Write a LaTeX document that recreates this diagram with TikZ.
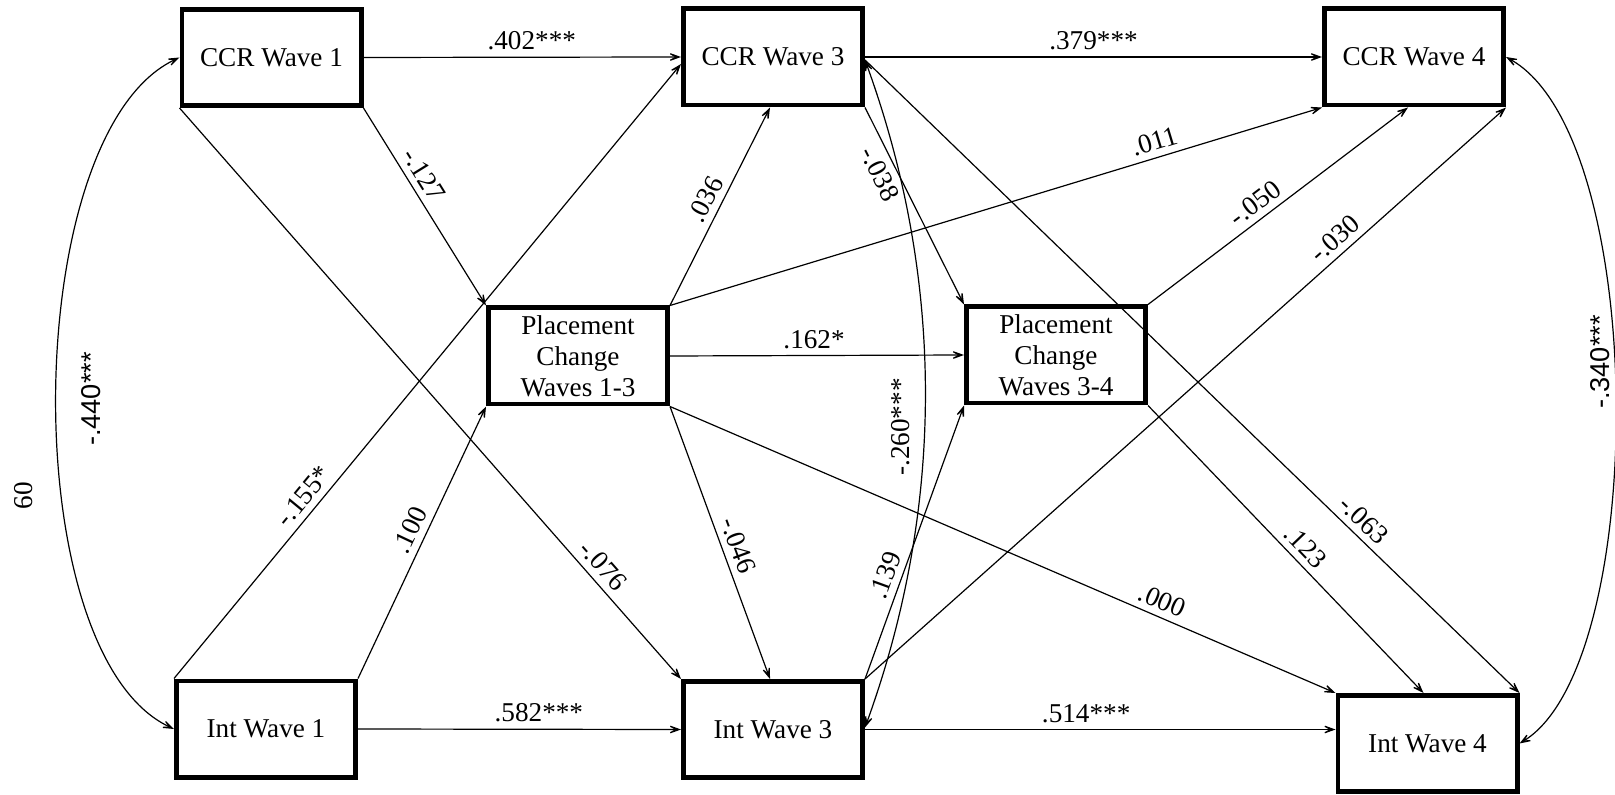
\documentclass[tikz,border=0pt]{standalone}
\usepackage{fontspec}
\setmainfont{Liberation Serif}
\newfontfamily\lsans{Liberation Sans}
\usetikzlibrary{arrows.meta,calc}
\begin{document}
\begin{tikzpicture}[x=0.5pt,y=-0.5pt,
  txt/.style={font=\fontsize{13.6}{15.5}\selectfont},
  box/.style={txt,draw,line width=2.3pt,minimum width=89.7pt,minimum height=48.2pt,inner sep=0pt,align=center},
  tip/.tip={Stealth[length=9pt,width=6.5pt,inset=6pt]},
  conn/.style={line width=0.6pt,-tip},
  biconn/.style={line width=0.6pt,tip-tip},
  lab/.style={txt,inner sep=3.2pt,sloped},
  vlab/.style={txt,rotate=90,inner sep=0pt},
]
\useasboundingbox (0,0) rectangle (1615,795);

\node[box] (c1) at (271.5,57.5) {CCR Wave 1};
\node[box] (c3) at (773,57) {CCR Wave 3};
\node[box] (c4) at (1414,57) {CCR Wave 4};
\node[box] (p13) at (578,356) {Placement\\Change\\Waves 1-3};
\node[box] (p34) at (1056,355) {Placement\\Change\\Waves 3-4};
\node[box] (i1) at (266,729) {Int Wave 1};
\node[box] (i3) at (773,729.5) {Int Wave 3};
\node[box] (i4) at (1427.5,743.5) {Int Wave 4};

% horizontal paths
\draw[conn] (c1.east) -- node[lab,above,pos=0.53] {.402***} (c3.west);
\draw[conn] (c3.east) -- node[lab,above,pos=0.5] {.379***} (c4.west);
\draw[conn] (i1.east) -- node[lab,above,pos=0.56] {.582***} (i3.west);
\draw[conn] (i3.east) -- node[lab,above,pos=0.47] {.514***} (i3.east -| i4.west);
\draw[conn] (p13.east) -- node[lab,above,pos=0.49] {.162*} (p34.west);

% diagonal paths
\draw[conn] (c1.south east) -- node[lab,above,pos=0.38] {-.127} (p13.north west);
\draw[conn] (c1.south west) -- node[lab,above,pos=0.82] {-.076} (i3.north west);
\draw[conn] (i1.north west) -- node[lab,above,pos=0.28] {-.155*} ([yshift=-3.5pt]c3.west);
\draw[conn] (i1.north east) -- node[lab,above,pos=0.52] {.100} (p13.south west);
\draw[conn] (p13.north east) -- node[lab,above,pos=0.5] {.036} ([xshift=-1.5pt]c3.south);
\draw[conn] (p13.north east) -- node[lab,above,pos=0.75] {.011} (c4.south west);
\draw[conn] (p13.south east) -- node[lab,above,pos=0.53] {-.046} ([xshift=-1.5pt]i3.north);
\draw[conn] (p13.south east) -- node[lab,above,pos=0.73] {.000} (i4.north west);
\draw[conn] (c3.south east) -- node[lab,below,pos=0.30] {-.038} (p34.north west);
\draw[conn] ([yshift=-1.5pt]c3.east) -- node[lab,above,pos=0.745] {-.063} (i4.north east);
\draw[conn] (p34.south east) -- node[lab,above,pos=0.53] {.123} ([xshift=-2pt]i4.north);
\draw[conn] (p34.north east) -- node[lab,above,pos=0.45] {-.050} ([xshift=-3pt]c4.south);
\draw[conn] (i3.north east) -- node[lab,above,pos=0.75] {-.030} (c4.south east);
\draw[conn] (i3.north east) -- node[lab,above,pos=0.36] {.139} (p34.south west);

% covariances
\draw[biconn] (c1.west) .. controls +(-160,75) and +(-160,-75) .. (i1.west);
\draw[biconn] ([yshift=-1.5pt]c3.east) .. controls +(80,220) and +(80,-220) .. ([yshift=1pt]i3.east);
\draw[biconn] (c4.east) .. controls +(143,80) and +(130,-80) .. (i4.east);

\node[vlab,font=\lsans\fontsize{13.6}{15.5}\selectfont] (l440) at (91,399) {-.440***};
\node[vlab] (l260) at (901,427) {-.260***};
\node[vlab,font=\lsans\fontsize{13.6}{15.5}\selectfont] (l340) at (1600,362) {-.340***};
\node[vlab] (l60) at (24,496) {60};
\end{tikzpicture}
\end{document}
